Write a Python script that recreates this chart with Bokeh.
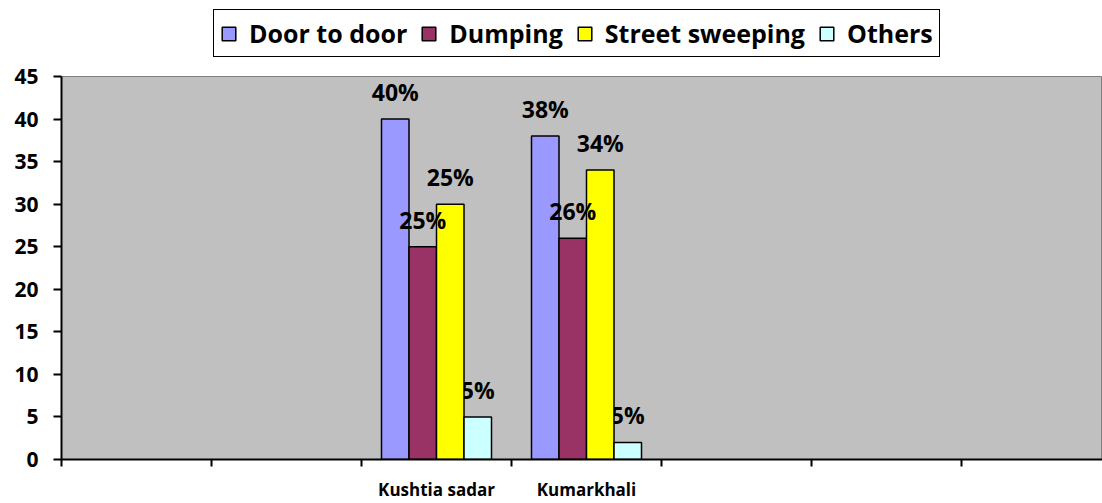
from bokeh.plotting import figure
from bokeh.layouts import column
from bokeh.models import Range1d, FixedTicker, Legend, LegendItem
from bokeh.core.properties import value
from bokeh.embed import file_html
from bokeh.resources import INLINE

# ---- data ----
categories = ["Kushtia sadar", "Kumarkhali"]
category_slots = [2, 3]          # which of the 7 axis slots each category occupies
n_slots = 7
series = ["Door to door", "Dumping", "Street sweeping", "Others"]
door_to_door = [40, 38]
dumping = [25, 26]
street_sweeping = [30, 34]
others = [5, 2]
door_labels = ["40%", "38%"]
dumping_labels = ["25%", "26%"]
sweeping_labels = ["25%", "34%"]
others_labels = ["5%", "5%"]
y_ticks = [0, 5, 10, 15, 20, 25, 30, 35, 40, 45]

colors = ["#9999FF", "#993366", "#FFFF00", "#CCFFFF"]
FONT = "Open Sans"

values_list = [door_to_door, dumping, street_sweeping, others]
labels_list = [door_labels, dumping_labels, sweeping_labels, others_labels]

frame_w = 1041
slot_px = 150
bar_w = 27.5 / slot_px

W = 1102
LEG_H = 60
MAIN_H = 503 - LEG_H

# ---- main chart ----
p = figure(width=W, height=MAIN_H, output_backend="svg", toolbar_location=None,
           x_range=Range1d(0, frame_w / slot_px), y_range=Range1d(0, 45),
           min_border_left=61, min_border_right=0, min_border_top=16,
           min_border_bottom=44)

p.background_fill_color = "#C0C0C0"
p.border_fill_color = "white"
p.outline_line_color = "#808080"
p.outline_line_width = 1
p.xgrid.visible = False
p.ygrid.visible = False


def xs(i):
    return [s + 0.5 + (i - 1.5) * bar_w for s in category_slots]


def bars(i):
    return p.vbar(x=xs(i), top=values_list[i], width=bar_w, bottom=0,
                  fill_color=colors[i], line_color="black", line_width=1.5)


def labels(i):
    p.text(x=xs(i), y=values_list[i], text=labels_list[i],
           text_font=value(FONT), text_font_style="bold", text_font_size="23px",
           text_color="black", text_align="center", text_baseline="alphabetic",
           y_offset=-27)


bars(0)
bars(1)
labels(3)
bars(2)
bars(3)
labels(0)
labels(1)
labels(2)

xa = p.xaxis[0]
xa.ticker = FixedTicker(ticks=[s + 0.5 for s in category_slots],
                        minor_ticks=list(range(n_slots)))
xa.major_label_overrides = {s + 0.5: c for s, c in zip(category_slots, categories)}
xa.major_tick_out = 0
xa.major_tick_in = 0
xa.minor_tick_out = 7
xa.minor_tick_in = 0
xa.minor_tick_line_width = 2
xa.minor_tick_line_color = "black"
xa.axis_line_width = 2
xa.axis_line_color = "black"
xa.major_label_standoff = 11
xa.major_label_text_font = FONT
xa.major_label_text_font_style = "bold"
xa.major_label_text_font_size = "17px"
xa.major_label_text_color = "black"

ya = p.yaxis[0]
ya.ticker = FixedTicker(ticks=y_ticks, minor_ticks=[])
ya.major_tick_out = 8
ya.major_tick_in = 0
ya.major_tick_line_width = 2
ya.major_tick_line_color = "black"
ya.axis_line_width = 2
ya.axis_line_color = "black"
ya.major_label_standoff = 15
ya.major_label_text_font = FONT
ya.major_label_text_font_style = "bold"
ya.major_label_text_font_size = "21px"
ya.major_label_text_color = "black"

# ---- legend strip (separate figure above the chart) ----
lf = figure(width=W, height=LEG_H, output_backend="svg", toolbar_location=None,
            x_range=Range1d(0, 1), y_range=Range1d(0, 1),
            min_border_left=0, min_border_right=0, min_border_top=0,
            min_border_bottom=0, x_axis_location=None, y_axis_location=None)
lf.background_fill_color = "white"
lf.border_fill_color = "white"
lf.outline_line_color = None
lf.xgrid.visible = False
lf.ygrid.visible = False

# swatch-only renderers (hidden; they just supply the legend glyph styles)
legend_renderers = []
for c in colors:
    r = lf.vbar(x=[0.5], top=[1], width=0.1, fill_color=c,
                line_color="black", line_width=1.5)
    r.visible = False
    legend_renderers.append(r)

legend = Legend(
    items=[LegendItem(label=s, renderers=[r]) for s, r in zip(series, legend_renderers)],
    orientation="horizontal", location=(152, 3),
    label_text_font=FONT, label_text_font_style="bold", label_text_font_size="25px",
    label_text_color="black", glyph_width=17, glyph_height=17, label_standoff=12,
    spacing=13, padding=6, margin=0, label_height=29,
    border_line_color="black", border_line_width=1.5, border_line_alpha=1.0,
    background_fill_color="white", background_fill_alpha=1.0,
    inactive_fill_alpha=0.0)
lf.add_layout(legend, "center")

layout = column(lf, p, spacing=0)
open("out.html", "w").write(file_html(layout, INLINE))
